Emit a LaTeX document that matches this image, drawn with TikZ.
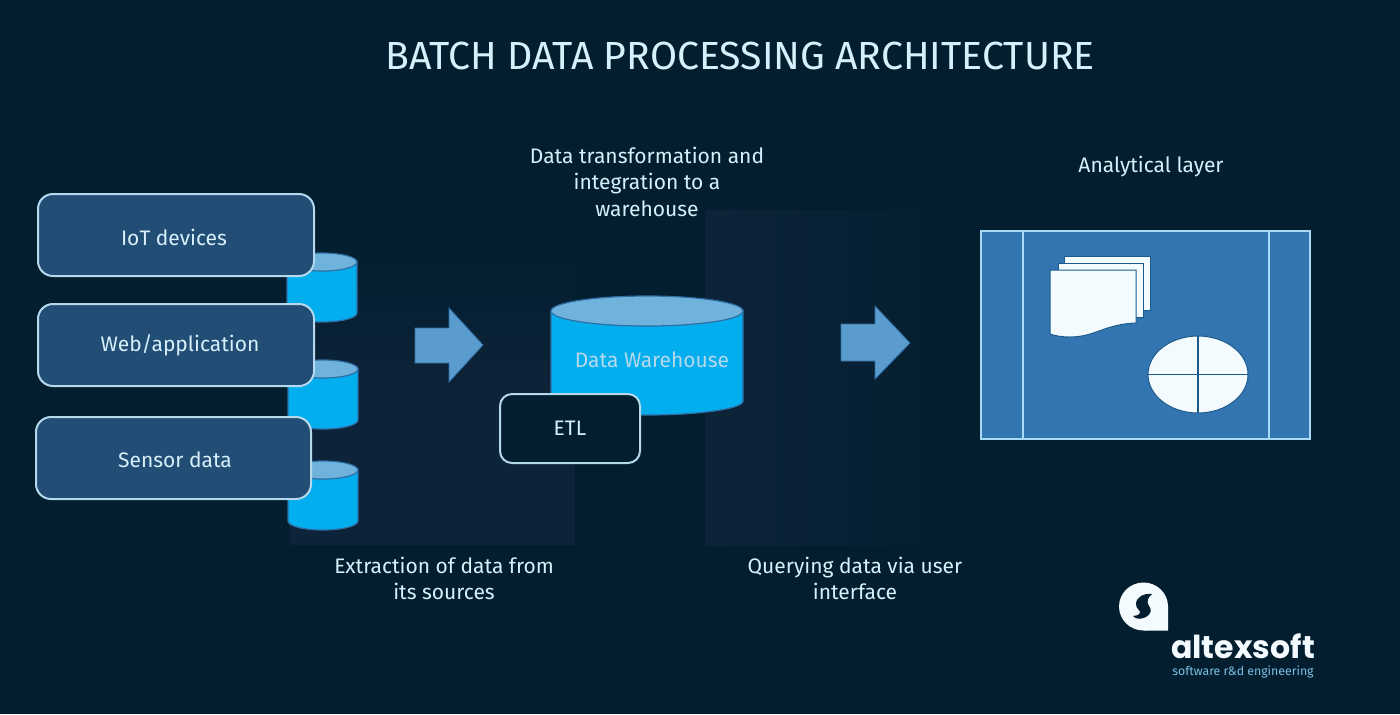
\documentclass[tikz,border=0pt]{standalone}
\usepackage{fontspec}
\setmainfont{Fira Sans}
\newfontfamily\logofont{Poppins}
\definecolor{bgdark}{HTML}{031E2E}
\definecolor{bgpanel}{HTML}{0D2339}
\definecolor{boxblue}{HTML}{224D74}
\definecolor{boxline}{HTML}{B5D8EC}
\definecolor{dbside}{HTML}{03AEEF}
\definecolor{dbtop}{HTML}{6FB3DC}
\definecolor{dbline}{HTML}{2F6EA5}
\definecolor{arrowblue}{HTML}{5A9CCE}
\definecolor{layerblue}{HTML}{3375B1}
\definecolor{layerline}{HTML}{A8DAF5}
\definecolor{paper}{HTML}{F3FBFE}
\definecolor{paperline}{HTML}{1D5A8C}
\definecolor{labeltext}{HTML}{D8F0FB}
\definecolor{logotext}{HTML}{7CC0E6}
\tikzset{
	sourcebox/.style={draw=boxline, line width=1pt, fill=boxblue, rounded corners=7.5pt},
	flowlabel/.style={text=labeltext, align=center, inner sep=0pt, font=\fontsize{10.5}{13.25}\selectfont},
	dbbody/.style={fill=dbside, draw=dbline, line width=0.6pt},
	dbcap/.style={fill=dbtop, draw=dbline, line width=0.6pt},
	bigarrow/.style={fill=arrowblue, draw=dbline, line width=0.4pt},
	sheet/.style={fill=paper, draw=paperline, line width=0.5pt}
}
\begin{document}
\begin{tikzpicture}[x=0.5pt, y=-0.5pt]
	\useasboundingbox (0,0) rectangle (1400,714);
	\fill[bgdark] (0,0) rectangle (1400,714);

	% Faint panels behind the flow
	\shade[top color=bgdark, bottom color=bgpanel] (290,225) rectangle (575,400);
	\fill[bgpanel] (290,400) rectangle (575,545);
	\shade[left color=bgpanel, right color=bgdark] (705,210) rectangle (988,545);

	% Title
	\node[text=labeltext, inner sep=0pt, font=\fontsize{19.6}{24}\selectfont] (title) at (740,56) {BATCH DATA PROCESSING ARCHITECTURE};

	% Source databases
	\foreach \xl/\yc in {287/262, 288/369, 288/470}{
		\draw[dbbody] (\xl,\yc) -- (\xl,\yc+51) arc[start angle=180, end angle=0, x radius=35, y radius=9] -- (\xl+70,\yc) -- cycle;
		\draw[dbcap] (\xl+35,\yc) ellipse[x radius=35, y radius=9];
	}

	% Source boxes
	\draw[sourcebox] (38,194) rectangle (314,276);
	\draw[sourcebox] (38,304) rectangle (314,386);
	\draw[sourcebox] (36,417) rectangle (311,499);
	\node[flowlabel] (iot) at (174,237) {IoT devices};
	\node[flowlabel] (web) at (180,345) {Web/application};
	\node[flowlabel] (sensor) at (175,460) {Sensor data};

	% Arrows
	\draw[bigarrow] (415,328) -- (449,328) -- (449,308) -- (483,345) -- (449,382) -- (449,363) -- (415,363) -- cycle;
	\draw[bigarrow] (841,324) -- (875,324) -- (875,306) -- (910,343) -- (875,379) -- (875,361) -- (841,361) -- cycle;

	% Warehouse
	\draw[dbbody] (551,311) -- (551,401) arc[start angle=180, end angle=0, x radius=96, y radius=14] -- (743,311) -- cycle;
	\draw[dbcap] (647,311) ellipse[x radius=96, y radius=15];
	\node[flowlabel, text=boxline] (warehouse) at (652,360) {Data Warehouse};
	\node[flowlabel, draw=boxline, line width=1pt, fill=bgdark, rounded corners=6pt, minimum width=70pt, minimum height=34.5pt] (etl) at (570,428.5) {ETL};

	% Analytical layer
	\draw[fill=layerblue, draw=layerline, line width=0.6pt] (981,231) rectangle (1310,439);
	\draw[layerline, line width=0.6pt] (1023,231) -- (1023,439);
	\draw[layerline, line width=0.6pt] (1269,231) -- (1269,439);
	\draw[sheet] (1064,256) rectangle (1150,310);
	\draw[sheet] (1058,263) rectangle (1143,317);
	\draw[sheet] (1050,270) -- (1136,270) -- (1136,323) .. controls (1105,324) and (1095,337) .. (1070,337) .. controls (1062,337) and (1056,336) .. (1050,334) -- cycle;
	\draw[sheet] (1198,374.5) ellipse[x radius=50, y radius=38.5];
	\draw[paperline, line width=0.6pt] (1148,374.5) -- (1248,374.5);
	\draw[paperline, line width=0.6pt] (1198,336) -- (1198,413);

	% Labels
	\node[flowlabel] (transform) at (647,181.5) {Data transformation and\\integration to a\\warehouse};
	\node[flowlabel] (analytic) at (1151,167) {Analytical layer};
	\node[flowlabel] (extract) at (444,578.5) {Extraction of data from\\its sources};
	\node[flowlabel] (query) at (855,578.5) {Querying data via user\\interface};

	% Logo
	\fill[paper] (1168,606.5) arc[start angle=0, end angle=-180, x radius=24.5, y radius=24] arc[start angle=180, end angle=0, x radius=24.5, y radius=24] -- cycle;
	\fill[paper] (1143.5,630.5) -- (1168,630.5) -- (1168,606) -- cycle;
	\fill[bgdark] (1152,594) .. controls (1144,593) and (1136,597) .. (1136,604) .. controls (1136,609) and (1140,610) .. (1140,612) .. controls (1140,615) and (1136,616) .. (1133,616) .. controls (1136,620) and (1142,619) .. (1146,617) .. controls (1151,614) and (1152,610) .. (1149,606) .. controls (1146,602) and (1148,597) .. (1152,594) -- cycle;
	\node[text=paper, inner sep=0pt, text depth=0pt, anchor=base, font=\logofont\fontsize{15.8}{18}\selectfont\bfseries] (altexsoft) at (1243,658) {altexsoft};
	\node[text=logotext, inner sep=0pt, text height=4.5pt, text depth=1.2pt, font=\fontsize{6.15}{8}\selectfont] (tagline) at (1243,672) {software r\&d engineering};
\end{tikzpicture}
\end{document}
